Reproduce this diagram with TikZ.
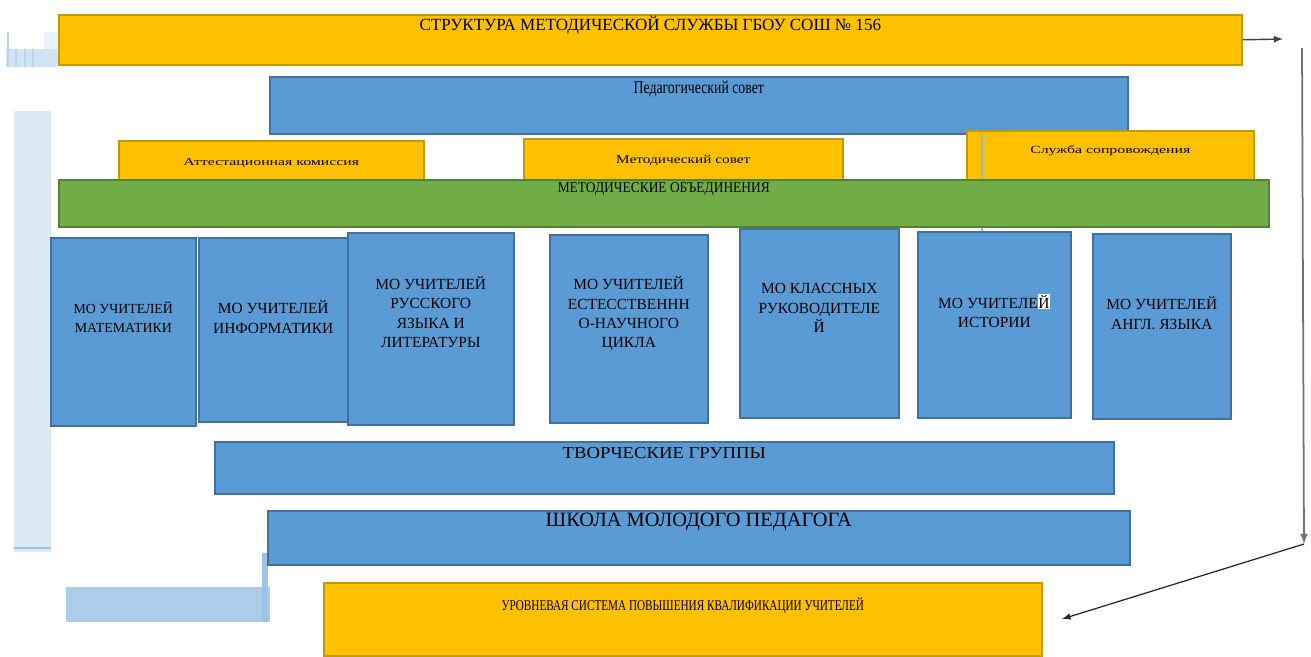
\documentclass[tikz,border=0pt]{standalone}
\usepackage{fontspec}
\setmainfont{Liberation Serif}
\usepackage{graphicx}
\usetikzlibrary{arrows}

\definecolor{ornfill}{HTML}{FFC000}
\definecolor{orndraw}{HTML}{C59A00}
\definecolor{blufill}{HTML}{5B9BD5}
\definecolor{bludraw}{HTML}{41719C}
\definecolor{grnfill}{HTML}{70AD47}
\definecolor{grndraw}{HTML}{548235}
\definecolor{lbA}{HTML}{D2E3F4}
\definecolor{lbB}{HTML}{DDEAF6}
\definecolor{lbC}{HTML}{9DC3E6}
\definecolor{lbD}{HTML}{ABCDEA}

\tikzset{
	box/.style={draw,line width=0.9pt,anchor=north west,inner sep=0pt},
	orn/.style={box,fill=ornfill,draw=orndraw},
	blu/.style={box,fill=blufill,draw=bludraw},
	grn/.style={box,fill=grnfill,draw=grndraw},
	sz/.style 2 args={minimum width=#1*0.02cm,minimum height=#2*0.02cm},
	txt/.style={anchor=center,align=center,inner sep=0pt,text=black,yshift=-#1*0.02cm},
	mo/.style={txt=80,font=\fontsize{8.8}{11}\selectfont},
}

\begin{document}
\begin{tikzpicture}[x=0.02cm,y=-0.02cm,>=latex]
	\useasboundingbox (0,0) rectangle (1311,656);
	% faded pieces at the left
	\fill[lbB!60] (44,32) rectangle (58,49);
	\fill[lbA] (6,49) rectangle (58,67);
	\foreach \s in {8,16,25,33}
	\draw[lbC!70,line width=0.8pt] (\s,49) -- (\s,67);
	\draw[lbC!70,line width=0.8pt] (8,32) -- (8,49);
	\fill[lbB] (14,111) rectangle (51,552);
	\draw[lbC,line width=0.8pt] (14,548) -- (51,548);
	\fill[lbD] (66,587) rectangle (270,622);
	\fill[lbC] (262,553) rectangle (268,622);
	
	\path
	(58,14)   node[orn,sz={1183}{50},label={[txt=11,font=\fontsize{9.7}{11}\selectfont]north:СТРУКТУРА МЕТОДИЧЕСКОЙ СЛУЖБЫ ГБОУ СОШ № 156}] (title) {}
	(269,76)  node[blu,sz={858}{57},label={[txt=13,font=\fontsize{10.2}{12}\selectfont]north:\scalebox{0.77}[1]{Педагогический совет}}] (ped) {}
	(118,140) node[orn,sz={305}{45},label={[txt=23,font=\fontsize{6}{7}\selectfont]north:\scalebox{1.5}[1]{Аттестационная комиссия}}] (att) {}
	(523,138) node[orn,sz={319}{47},label={[txt=23,font=\fontsize{6.8}{8}\selectfont]north:\scalebox{1.28}[1]{Методический совет}}] (metsov) {}
	(966,130) node[orn,sz={287}{55},label={[txt=21,font=\fontsize{6.2}{7}\selectfont]north:\scalebox{1.45}[1]{Служба сопровождения}}] (sopr) {};
	
	\draw[lbC!80!gray,line width=1pt] (982,133) -- (982,232);
	
	\path
	(58,179)  node[grn,sz={1210}{47},label={[txt=10,font=\fontsize{8.5}{10}\selectfont]north:\scalebox{0.9}[1]{МЕТОДИЧЕСКИЕ ОБЪЕДИНЕНИЯ}}] (mobj) {}
	% the seven MO boxes
	(50,237)  node[blu,sz={145}{188},label={[mo,font=\fontsize{7.9}{10.8}\selectfont]north:МО УЧИТЕЛЕЙ\\МАТЕМАТИКИ}] (math) {}
	(198,237) node[blu,sz={149}{184},label={[mo]north:МО УЧИТЕЛЕЙ\\ИНФОРМАТИКИ}] (inf) {}
	(347,232) node[blu,sz={166}{192},label={[mo]north:МО УЧИТЕЛЕЙ\\РУССКОГО\\ЯЗЫКА И\\ЛИТЕРАТУРЫ}] (rus) {}
	(549,234) node[blu,sz={158}{188},label={[mo]north:МО УЧИТЕЛЕЙ\\ЕСТЕССТВЕННН\\О-НАУЧНОГО\\ЦИКЛА}] (est) {}
	(739,228) node[blu,sz={159}{189},label={[mo]north:МО КЛАССНЫХ\\РУКОВОДИТЕЛЕ\\Й}] (klass) {}
	(917,231) node[blu,sz={153}{186},label={[mo]north:МО УЧИТЕЛЕ{\setlength\fboxsep{0.4pt}\colorbox{white}{Й}}\\ИСТОРИИ}] (hist) {}
	(1092,233) node[blu,sz={138}{185},label={[mo]north:МО УЧИТЕЛЕЙ\\АНГЛ. ЯЗЫКА}] (engl) {}
	% lower bands
	(214,441) node[blu,sz={899}{52},label={[txt=12,font=\fontsize{9.5}{11}\selectfont]north:\scalebox{1.12}[1]{ТВОРЧЕСКИЕ ГРУППЫ}}] (tvor) {}
	(267,510) node[blu,sz={862}{54},label={[txt=12,font=\fontsize{11.6}{13}\selectfont]north:ШКОЛА МОЛОДОГО ПЕДАГОГА}] (shkola) {}
	(323,582) node[orn,sz={718}{73},label={[txt=24,font=\fontsize{8.5}{10}\selectfont]north:\scalebox{0.75}[1]{УРОВНЕВАЯ СИСТЕМА ПОВЫШЕНИЯ КВАЛИФИКАЦИИ УЧИТЕЛЕЙ}}] (urov) {};
	
	\coordinate (r1) at (1283,39);
	\coordinate (r2) at (1302,48);
	\coordinate (r3) at (1304,544);
	\coordinate (r4) at (1062,619);
	\draw[->,black!75,line width=0.8pt] (title.east) -- (r1);
	\draw[->,black!55,line width=1pt] (r2) -- (r3);
	\draw[->,black!85,line width=0.7pt] (r3) -- (r4);
\end{tikzpicture}
\end{document}
